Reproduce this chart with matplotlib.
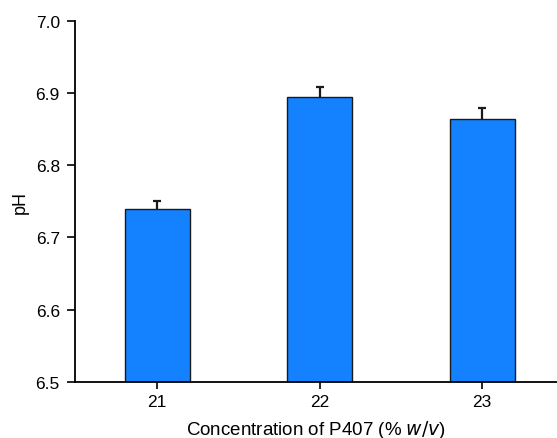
import matplotlib
matplotlib.use("Agg")
import matplotlib.pyplot as plt  # noqa: E402

# pH of the gels for each P407 concentration (mean and SD)
concentrations = [21, 22, 23]
ph_mean = [6.740, 6.894, 6.864]
ph_sd = [0.010, 0.015, 0.015]

plt.rcParams["font.family"] = ["Liberation Sans", "DejaVu Sans"]

fig = plt.figure(figsize=(5.57, 4.39), dpi=100)
ax = fig.add_axes([0.1347, 0.1282, 0.8653, 0.8217])

# error bars sit behind the bars so only the upper half shows
ax.errorbar(concentrations, ph_mean, yerr=ph_sd, fmt="none",
            ecolor="#1a1a1a", elinewidth=1.6, capsize=3.2, capthick=1.6,
            zorder=1)
ax.bar(concentrations, ph_mean, width=0.4, color="#1482FF",
       edgecolor="#1a1a1a", linewidth=1.0, zorder=2)

ax.set_xlim(20.495, 23.46)
ax.set_ylim(6.5, 7.0)
ax.set_xticks(concentrations)
ax.set_yticks([6.5, 6.6, 6.7, 6.8, 6.9, 7.0])
ax.set_yticklabels([f"{v:.1f}" for v in ax.get_yticks()])

ax.spines["top"].set_visible(False)
ax.spines["right"].set_visible(False)
for side in ("left", "bottom"):
    ax.spines[side].set_linewidth(1.3)
ax.tick_params(axis="y", direction="out", length=6, width=1.2,
               labelsize=12.5, colors="black", pad=5)
ax.tick_params(axis="x", direction="out", length=5, width=1.2,
               labelsize=12.5, colors="black", pad=4)

ax.set_ylabel("pH", fontsize=13, labelpad=5)
ax.set_xlabel("Concentration of P407 (% $\\it{w/v}$)", fontsize=13.5,
              labelpad=6)

fig.savefig("out.png", dpi=100)
plt.close(fig)
